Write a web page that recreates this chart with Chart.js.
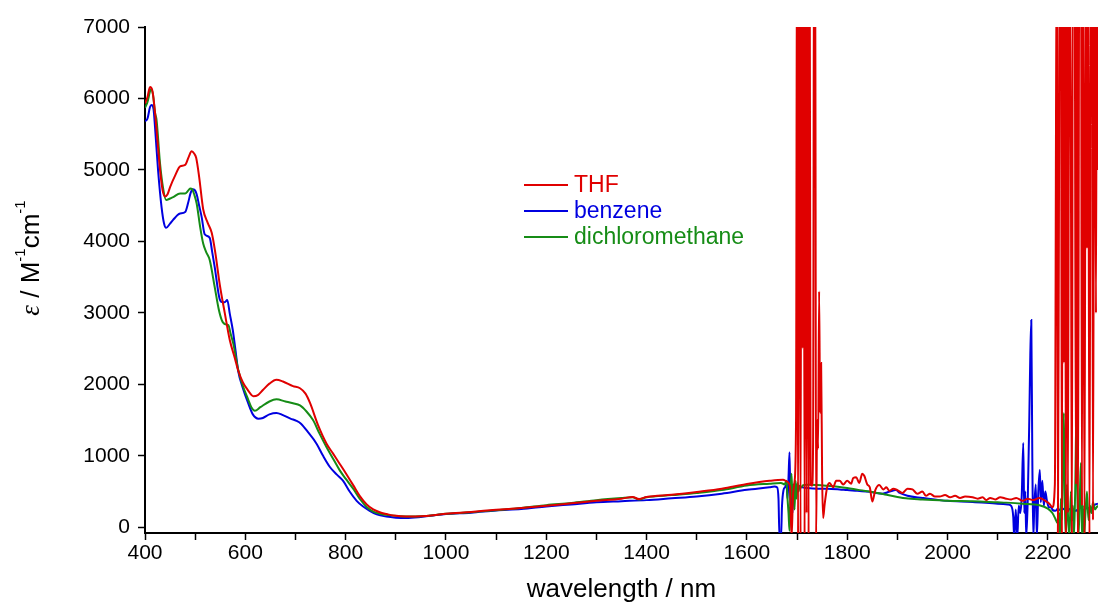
<!DOCTYPE html>
<html lang="en">
<head>
<meta charset="UTF-8">
<title>Molar absorptivity in three solvents</title>
<style>
  html, body { margin: 0; padding: 0; background: #fff; }
  canvas { display: block; }
</style>
</head>
<body>
<canvas id="spectrum" width="1098" height="603"></canvas>
<script src="https://cdn.jsdelivr.net/npm/chart.js"></script>
<script>
// wavelength (nm) / epsilon (M-1 cm-1)
const thfX = [
  400, 405, 410, 415, 420, 425, 430, 435, 440, 445,
  450, 460, 470, 480, 487, 493, 498, 502, 508, 516,
  525, 533, 540, 549, 559, 569, 579, 586, 595, 605,
  616, 625, 635, 648, 662, 675, 695, 709, 720, 729,
  745, 762, 775, 788, 800, 815, 828, 842, 855, 868,
  882, 895, 910, 930, 950, 975, 1000, 1050, 1100, 1150,
  1200, 1250, 1300, 1350, 1372, 1385, 1400, 1450, 1500, 1550,
  1600, 1645, 1672, 1680, 1686, 1689, 1692, 1695, 1698, 1700,
  1702, 1704, 1707, 1709, 1711, 1713, 1715, 1717, 1719, 1721,
  1723, 1725, 1727, 1730, 1732, 1734, 1736, 1738, 1740, 1742,
  1744, 1746, 1748, 1750, 1752, 1755, 1760, 1765, 1772, 1778,
  1785, 1792, 1800, 1808, 1812, 1818, 1824, 1830, 1834, 1840,
  1845, 1850, 1856, 1864, 1872, 1878, 1884, 1892, 1900, 1910,
  1920, 1930, 1940, 1950, 1957, 1965, 1975, 1984, 1995, 2005,
  2015, 2025, 2035, 2050, 2060, 2070, 2077, 2085, 2095, 2105,
  2117, 2127, 2137, 2150, 2160, 2170, 2183, 2195, 2203, 2209,
  2214, 2218, 2220, 2222, 2224, 2226, 2228, 2230, 2232, 2234,
  2236, 2238, 2240, 2243, 2246, 2248, 2250, 2253, 2256, 2258,
  2260, 2263, 2266, 2268, 2270, 2273, 2276, 2278, 2280, 2283,
  2286, 2288, 2290, 2293, 2296, 2298, 2300
];
const thfY = [
  5930, 6020, 6160, 6100, 5800, 5400, 5000, 4720, 4630, 4660,
  4760, 4920, 5050, 5070, 5180, 5260, 5230, 5170, 4900, 4450,
  4260, 4120, 3850, 3400, 3000, 2620, 2370, 2190, 2030, 1920,
  1835, 1850, 1920, 2010, 2065, 2040, 1975, 1945, 1870, 1740,
  1430, 1170, 1030, 890, 760, 590, 440, 320, 250, 210,
  185, 165, 155, 150, 155, 170, 190, 215, 245, 270,
  300, 335, 370, 400, 425, 395, 425, 455, 495, 540,
  605, 650, 665, 640, 560, -150, 450, 640, 1500, 9000,
  -150, 9000, -150, 9000, 2500, 9000, -150, 9000, 200, 9000,
  -150, 9000, 600, 580, 1200, 9000, 9000, -150, 1500, 1100,
  3300, 1600, 2300, 700, 130, 320, 560, 620, 560, 650,
  650, 600, 650, 610, 690, 700, 620, 750, 720, 600,
  560, 360, 520, 590, 530, 560, 510, 540, 520, 480,
  540, 530, 470, 500, 440, 470, 430, 430, 450, 420,
  440, 410, 430, 420, 400, 420, 380, 410, 390, 420,
  400, 390, 410, 370, 400, 380, 410, 370, 330, 280,
  600, 9000, -150, 4000, 9000, 9000, -150, 9000, 2300, 9000,
  -150, 9000, 200, 9000, 5000, -150, 9000, 9000, 600, 9000,
  -150, 9000, 9000, 300, 9000, -150, 9000, 3900, 9000, -150,
  9000, 9000, 100, 9000, 3000, 9000, 5000
];

const benzeneX = [
  400, 405, 410, 413, 417, 420, 426, 433, 438, 442,
  450, 456, 465, 470, 480, 486, 491, 495, 499, 503,
  508, 513, 519, 529, 534, 539, 549, 555, 559, 564,
  569, 575, 580, 586, 595, 605, 615, 626, 635, 648,
  662, 675, 690, 702, 711, 725, 742, 755, 769, 782,
  795, 808, 822, 835, 848, 862, 881, 900, 921, 950,
  974, 1000, 1050, 1100, 1150, 1200, 1250, 1300, 1350, 1400,
  1450, 1500, 1550, 1600, 1645, 1655, 1660, 1663, 1665, 1668,
  1670, 1673, 1676, 1679, 1681, 1683, 1685, 1687, 1689, 1691,
  1693, 1696, 1700, 1710, 1720, 1740, 1760, 1785, 1800, 1820,
  1850, 1870, 1885, 1897, 1905, 1920, 1950, 1984, 2000, 2050,
  2100, 2120, 2127, 2131, 2133, 2136, 2139, 2142, 2145, 2148,
  2151, 2153, 2155, 2157, 2160, 2163, 2165, 2167, 2169, 2171,
  2173, 2176, 2178, 2181, 2184, 2186, 2189, 2192, 2195, 2198,
  2202, 2206, 2210, 2215, 2220, 2225, 2230, 2235, 2240, 2245,
  2250, 2255, 2260, 2265, 2270, 2275, 2280, 2285, 2290, 2295,
  2300
];
const benzeneY = [
  5680, 5720, 5880, 5910, 5850, 5600, 5000, 4480, 4250, 4190,
  4250, 4300, 4370, 4390, 4410, 4540, 4680, 4730, 4720, 4660,
  4500, 4340, 4100, 4050, 3850, 3640, 3190, 3150, 3150, 3180,
  2990, 2760, 2500, 2180, 1950, 1750, 1580, 1520, 1530, 1580,
  1600, 1570, 1520, 1490, 1450, 1330, 1170, 1000, 840, 740,
  650, 500, 370, 290, 230, 180, 150, 135, 130, 145,
  165, 185, 205, 235, 255, 290, 320, 350, 365, 380,
  405, 430, 470, 525, 560, 570, 560, 400, -150, -150,
  300, 520, 560, 600, 400, 700, 1050, 300, 500, 200,
  600, 550, 550, 560, 550, 540, 540, 530, 520, 510,
  490, 470, 500, 520, 480, 440, 410, 380, 370, 355,
  330, 320, 300, 150, -150, 250, -150, 300, 200, 450,
  1180, 200, 500, -150, 400, 1500, 2400, 2900, 1000, -150,
  300, 600, -150, 500, 800, 350, 650, 300, 500, 380,
  280, 280, 240, 230, 260, 240, 250, 270, 240, 260,
  250, 230, 250, 280, 240, 260, 270, 230, 290, 320,
  330
];

const dcmX = [
  400, 405, 410, 412, 416, 420, 423, 430, 436, 442,
  450, 456, 470, 480, 486, 490, 494, 498, 503, 510,
  516, 522, 529, 539, 547, 553, 560, 566, 571, 576,
  586, 595, 605, 612, 619, 630, 648, 662, 680, 695,
  709, 722, 735, 748, 762, 775, 788, 800, 815, 828,
  842, 855, 868, 885, 908, 930, 950, 975, 1000, 1050,
  1100, 1150, 1200, 1250, 1300, 1350, 1372, 1385, 1400, 1450,
  1500, 1550, 1600, 1645, 1668, 1675, 1679, 1681, 1683, 1685,
  1687, 1689, 1691, 1693, 1695, 1697, 1699, 1701, 1703, 1705,
  1708, 1712, 1720, 1740, 1760, 1785, 1800, 1825, 1850, 1875,
  1900, 1917, 1950, 1984, 2000, 2050, 2100, 2117, 2150, 2183,
  2200, 2209, 2215, 2219, 2222, 2224, 2226, 2228, 2230, 2232,
  2234, 2236, 2238, 2240, 2243, 2246, 2248, 2250, 2252, 2255,
  2257, 2259, 2261, 2264, 2266, 2268, 2270, 2272, 2275, 2278,
  2281, 2284, 2287, 2290, 2294, 2297, 2300
];
const dcmY = [
  5870, 5950, 6100, 6130, 6050, 5800, 5700, 5090, 4750, 4580,
  4600, 4620, 4670, 4670, 4710, 4740, 4730, 4660, 4530, 4200,
  3970, 3850, 3740, 3360, 3050, 2900, 2840, 2830, 2700, 2570,
  2200, 1980, 1800, 1680, 1630, 1680, 1760, 1790, 1760, 1735,
  1705, 1620, 1500, 1310, 1120, 960, 800, 680, 540, 400,
  285, 220, 190, 170, 155, 150, 155, 170, 190, 210,
  240, 270, 310, 340, 380, 410, 420, 390, 420, 450,
  480, 520, 585, 610, 620, 600, 650, 400, 200, -50,
  500, 750, 350, 600, 250, 650, 400, 620, 500, 580,
  560, 590, 595, 590, 580, 565, 550, 520, 495, 460,
  425, 405, 390, 378, 372, 365, 350, 345, 330, 308,
  260, 200, 120, 60, 200, -150, 400, 100, 900, 1600,
  300, -150, 600, 200, -150, 500, 100, 300, -150, 700,
  1600, 400, -150, 500, 900, -150, 300, -150, 200, 500,
  100, 300, 200, 350, 250, 280, 300
];

const seriesNames = ['THF', 'benzene', 'dichloromethane'];
const seriesColors = ['#e00000', '#0000e0', '#168c16'];
const xTicks = [400, 500, 600, 700, 800, 900, 1000, 1100, 1200, 1300, 1400,
                1500, 1600, 1700, 1800, 1900, 2000, 2100, 2200];
const yTicks = [0, 1000, 2000, 3000, 4000, 5000, 6000, 7000];

const sans = '"Liberation Sans", Arial, sans-serif';

function toPoints(xs, ys) {
  return xs.map((x, i) => ({ x: x, y: ys[i] }));
}

// legend sits inside the plot, text coloured like its line
const inlineLegend = {
  id: 'inlineLegend',
  afterDraw(chart) {
    const ctx = chart.ctx;
    ctx.save();
    ctx.font = '23px ' + sans;
    ctx.textBaseline = 'middle';
    chart.data.datasets.forEach((ds, i) => {
      const y = 185 + i * 26;
      ctx.strokeStyle = ds.borderColor;
      ctx.lineWidth = 2;
      ctx.beginPath();
      ctx.moveTo(524, y);
      ctx.lineTo(568, y);
      ctx.stroke();
      ctx.fillStyle = ds.borderColor;
      ctx.fillText(ds.label, 574, y + 1);
    });
    ctx.restore();
  }
};

// y title with italic epsilon and superscripts
const yTitle = {
  id: 'yTitle',
  afterDraw(chart) {
    const ctx = chart.ctx;
    const main = '26px ' + sans;
    const sup = '15px ' + sans;
    const parts = [
      { t: '\u03b5', f: 'italic 27px "Liberation Serif", "Times New Roman", serif', dy: 0 },
      { t: ' / M', f: main, dy: 0 },
      { t: '-1', f: sup, dy: -14 },
      { t: 'cm', f: main, dy: 0 },
      { t: '-1', f: sup, dy: -14 }
    ];
    ctx.save();
    let total = 0;
    parts.forEach(p => { ctx.font = p.f; p.w = ctx.measureText(p.t).width; total += p.w; });
    ctx.translate(30, 258);
    ctx.rotate(-Math.PI / 2);
    ctx.fillStyle = '#000';
    ctx.textBaseline = 'alphabetic';
    let x = -total / 2;
    parts.forEach(p => {
      ctx.font = p.f;
      ctx.fillText(p.t, x, 9 + p.dy);
      x += p.w;
    });
    ctx.restore();
  }
};

const thfData = toPoints(thfX, thfY);
const benzeneData = toPoints(benzeneX, benzeneY);
const dcmData = toPoints(dcmX, dcmY);

new Chart(document.getElementById('spectrum'), {
  type: 'line',
  data: {
    datasets: [
      { label: seriesNames[0], data: thfData, borderColor: seriesColors[0], order: 0 },
      { label: seriesNames[1], data: benzeneData, borderColor: seriesColors[1], order: 2 },
      { label: seriesNames[2], data: dcmData, borderColor: seriesColors[2], order: 1 }
    ]
  },
  options: {
    responsive: false,
    animation: false,
    devicePixelRatio: 1,
    layout: { padding: { top: 27, right: 0, bottom: 0, left: 0 } },
    elements: {
      line: { borderWidth: 2, fill: false, cubicInterpolationMode: 'monotone' },
      point: { radius: 0, hoverRadius: 0 }
    },
    plugins: {
      legend: { display: false },
      tooltip: { enabled: false }
    },
    scales: {
      x: {
        type: 'linear',
        min: 400,
        max: 2300,
        afterBuildTicks: s => { s.ticks = xTicks.map(v => ({ value: v })); },
        afterFit: s => { s.height = 70; },
        border: { color: '#000', width: 2 },
        grid: { drawOnChartArea: false, drawTicks: true, tickLength: 7, tickWidth: 1.5, tickColor: '#000' },
        ticks: {
          autoSkip: false,
          maxRotation: 0,
          padding: 1,
          color: '#000',
          font: { family: sans, size: 21 },
          callback: v => (v % 200 === 0 ? String(v) : '')
        },
        title: {
          display: true,
          text: 'wavelength / nm',
          color: '#000',
          font: { family: sans, size: 26, lineHeight: 1 },
          padding: { top: 0, bottom: 0 }
        }
      },
      y: {
        min: -80,
        max: 7000,
        afterBuildTicks: s => { s.ticks = yTicks.map(v => ({ value: v })); },
        afterFit: s => { s.width = 145; },
        border: { color: '#000', width: 2 },
        grid: { drawOnChartArea: false, drawTicks: true, tickLength: 7, tickWidth: 1.5, tickColor: '#000' },
        ticks: {
          autoSkip: false,
          padding: 8,
          color: '#000',
          font: { family: sans, size: 21 },
          callback: v => String(v)
        }
      }
    }
  },
  plugins: [inlineLegend, yTitle]
});
</script>
</body>
</html>
